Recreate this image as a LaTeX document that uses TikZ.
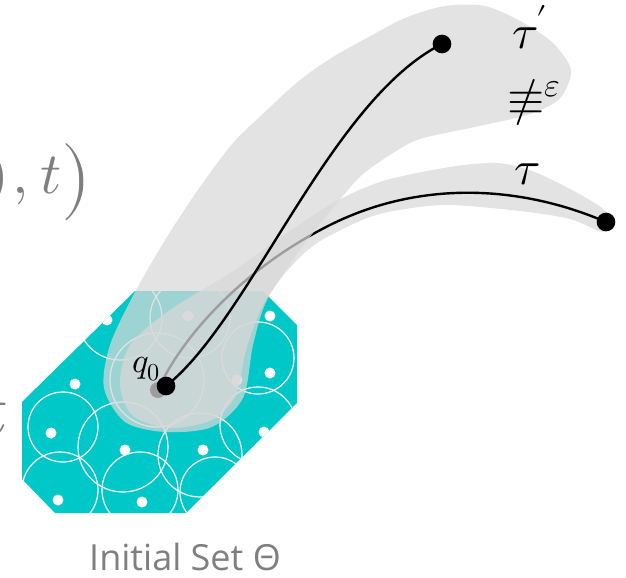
\documentclass[tikz,border=0pt]{standalone}
\usepackage{fontspec}
\usepackage{unicode-math}
\setmathfont{Latin Modern Math}
\newfontfamily\capfont{Open Sans}
\definecolor{setcyan}{RGB}{0,200,200}
\definecolor{tubegray}{RGB}{216,216,216}
\definecolor{textgray}{RGB}{127,127,127}
\tikzset{
  tube/.style={fill=tubegray, fill opacity=0.73},
  ring/.style={draw=white, line width=0.9pt},
  seed/.style={fill=white},
  traj/.style={draw=black, line width=1.8pt},
  enddot/.style={circle, fill=black, inner sep=0pt, minimum size=14pt},
  mathlabel/.style={inner sep=0pt, font=\fontsize{36}{36}\selectfont},
}
\begin{document}
\begin{tikzpicture}[x=0.75pt,y=-0.75pt]
\useasboundingbox (0,0) rectangle (626,578);
% initial set
\fill[setcyan] (135,291) -- (263,291) -- (297,325) -- (297,403) -- (186,513) -- (55,513) -- (22,479) -- (22,402) -- cycle;
\begin{scope}
\clip (135,291) -- (263,291) -- (297,325) -- (297,403) -- (186,513) -- (55,513) -- (22,479) -- (22,402) -- cycle;
\foreach \cx/\cy/\r in {120/318/42, 190/318/40, 258/358/36, 157/380/47, 63/427/35, 123/447/45, 200/455/42, 258/425/38, 60/490/38, 140/490/38, 215/492/35}
  \draw[ring] (\cx,\cy) circle[radius=\r];
\foreach \cx/\cy in {107/320, 188/316, 270/316, 75/384, 237/380, 270/373, 51/433, 125/450, 203/450, 264/432, 58/500, 142/502}
  \fill[seed] (\cx,\cy) circle[radius=5.5];
\end{scope}
% lower tube (tau)
\fill[tube] plot[smooth cycle] coordinates {(120,385) (130,345) (170,310) (230,273) (283,236) (333,203) (383,181) (450,167) (497,163) (532,171) (572,190) (602,208) (614,222) (603,232) (570,219) (520,211) (450,205) (405,209) (367,218) (317,243) (287,271) (263,305) (246,350) (236,395) (212,420) (170,428) (133,416)};
\node[enddot, minimum size=12pt] (tstart) at (158,390) {};
\node[enddot] (tend) at (606,222) {};
\draw[traj] (tstart.center) .. controls (180,340) and (240,270) .. (330,225) .. controls (420,180) and (520,185) .. (tend.center);
% upper tube (tau')
\fill[tube] plot[smooth cycle] coordinates {(104,388) (110,345) (135,292) (167,237) (200,187) (233,143) (267,110) (300,80) (333,57) (367,38) (405,18) (445,6) (485,6) (522,22) (553,43) (571,70) (562,96) (545,108) (520,117) (470,128) (420,139) (393,153) (362,175) (337,203) (300,250) (267,300) (253,345) (243,398) (212,427) (165,432) (125,422)};
\node[enddot] (q0) at (166,386) {};
\node[enddot] (tpend) at (442,44) {};
\draw[traj] (q0.center) .. controls (250,320) and (330,100) .. (tpend.center);
% labels
\node[mathlabel, anchor=base west] (lbltp) at (512,48) {$\tau\kern-1pt'$};
\node[mathlabel, anchor=base west] (lblneq) at (507,114) {$\nequiv^{\varepsilon}$};
\node[mathlabel, anchor=base west] (lblt) at (514,184) {$\tau$};
\node[inner sep=0pt, anchor=base west, font=\fontsize{26}{26}\selectfont] (lblq) at (132,372) {$q_0$};
\node[inner sep=0pt, anchor=base west, text=textgray, font=\fontsize{44}{44}\selectfont] (formula) at (-14,193) {$)$\kern2.9pt$,$\kern8.5pt$t$\kern-0.3pt\raisebox{-6.5pt}{\fontsize{58}{58}\selectfont$)$}};
\node[inner sep=0pt, anchor=base west, text=textgray, font=\fontsize{58}{58}\selectfont] (tfrag) at (-20,436) {$t$};
\node[inner sep=0pt, anchor=base, text=textgray, font=\capfont\fontsize{27}{27}\selectfont] (caption) at (185,570) {Initial Set Θ};
\end{tikzpicture}
\end{document}
